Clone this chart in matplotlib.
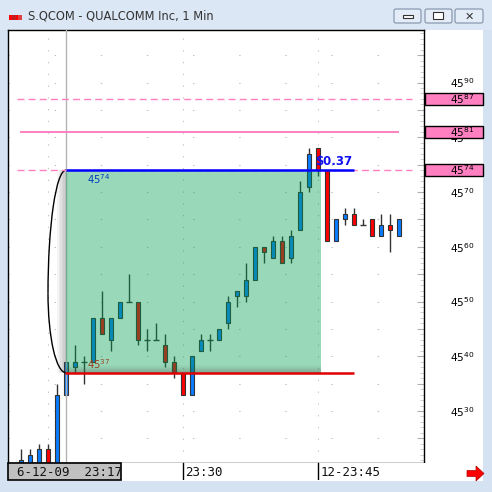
import matplotlib
matplotlib.use("Agg")
import matplotlib.pyplot as plt
from matplotlib.patches import Rectangle, FancyBboxPatch, Polygon, Arc
from matplotlib.transforms import blended_transform_factory
from matplotlib.ticker import FixedLocator, MultipleLocator, FuncFormatter

# one-minute bars, 6-12-09
times = ["23:12", "23:13", "23:14", "23:15", "23:16", "23:17", "23:18", "23:19",
         "23:20", "23:21", "23:22", "23:23", "23:24", "23:25", "23:26", "23:27",
         "23:28", "23:29", "23:30", "23:31", "23:32", "23:33", "23:34", "23:35",
         "23:36", "23:37", "23:38", "23:39", "23:40", "23:41", "23:42", "23:43",
         "23:44", "23:45", "23:46", "23:47", "23:48", "23:49", "23:50", "23:51",
         "23:52", "23:53", "23:54"]
opens = [4519, 4520, 4520, 4523, 4520, 4533, 4538, 4539, 4539, 4547, 4543, 4547,
         4550, 4550, 4543, 4543, 4542, 4539, 4537, 4533, 4541, 4543, 4543, 4546,
         4551, 4551, 4554, 4560, 4558, 4561, 4558, 4563, 4571, 4578, 4574, 4561,
         4565, 4566, 4564, 4565, 4562, 4564, 4562]
highs = [4523, 4523, 4524, 4524, 4535, 4539, 4542, 4540, 4547, 4552, 4547, 4550,
         4555, 4550, 4545, 4546, 4544, 4540, 4537, 4540, 4544, 4544, 4545, 4551,
         4552, 4557, 4560, 4560, 4562, 4562, 4563, 4572, 4578, 4578, 4574, 4565,
         4567, 4567, 4565, 4565, 4566, 4566, 4565]
lows = [4519, 4520, 4520, 4520, 4520, 4533, 4537, 4535, 4539, 4544, 4541, 4547,
        4550, 4542, 4541, 4543, 4538, 4536, 4533, 4533, 4541, 4541, 4543, 4545,
        4549, 4550, 4554, 4557, 4558, 4557, 4557, 4563, 4570, 4573, 4561, 4561,
        4564, 4564, 4564, 4562, 4562, 4559, 4562]
closes = [4521, 4522, 4523, 4520, 4533, 4539, 4539, 4539, 4547, 4544, 4547, 4550,
          4550, 4543, 4543, 4543, 4539, 4537, 4533, 4540, 4543, 4543, 4545, 4550,
          4552, 4554, 4560, 4559, 4561, 4557, 4562, 4570, 4577, 4574, 4561, 4565,
          4566, 4564, 4564, 4562, 4564, 4563, 4565]

zone_top = 4574
zone_bottom = 4537
zone_start = "23:17"
zone_end = "23:45"
line_end = "23:49"
alert_levels = [4587, 4581, 4574]
change_text = "$0.37"
price_ticks = [4530, 4540, 4550, 4560, 4570, 4580, 4590]
start_label = "6-12-09  23:17"
time_marks = [("23:30", "23:30"), ("23:45", "12-23:45")]
title = "S.QCOM - QUALCOMM Inc, 1 Min"

W = H = 492
BLUE = "#0A7CFF"
RED = "#FF0000"
PINK = "#FF7FC0"

plt.rcParams["mathtext.default"] = "regular"
plt.rcParams["font.family"] = ["DejaVu Sans"]

fig = plt.figure(figsize=(W / 100, H / 100), dpi=100)
fig.patch.set_facecolor("#D4E2F2")


def fx(x):
    return x / W


def fy(y):
    return 1 - y / H


# window chrome
fig.add_artist(Rectangle((0, fy(30)), 1, 30 / H, transform=fig.transFigure,
                         facecolor="#DCE7F5", edgecolor="none", zorder=-2))
fig.add_artist(Rectangle((fx(8), fy(481)), 475 / W, 451 / H, transform=fig.transFigure,
                         facecolor="white", edgecolor="none", zorder=-1))
fig.text(fx(28), fy(16), title, fontsize=8.3, color="#333333", va="center")
for x0, c in [(9, RED), (15, RED), (12, "#c02020"), (18, "#e04040")]:
    fig.add_artist(Rectangle((fx(x0), fy(20)), 4 / W, 5 / H, transform=fig.transFigure,
                             facecolor=c, edgecolor="none"))
for bx, bw in [(394, 27), (425, 27), (455, 28)]:
    fig.add_artist(FancyBboxPatch((fx(bx), fy(23)), bw / W, 14 / H,
                                  boxstyle="round,pad=0,rounding_size=0.004",
                                  transform=fig.transFigure, facecolor="#E3ECF7",
                                  edgecolor="#8090A8", lw=0.8))
fig.add_artist(Rectangle((fx(403), fy(18)), 10 / W, 2.5 / H, transform=fig.transFigure,
                         facecolor="white", edgecolor="#333333", lw=0.8))
fig.add_artist(Rectangle((fx(433), fy(19)), 10 / W, 7 / H, transform=fig.transFigure,
                         facecolor="white", edgecolor="#333333", lw=0.8))
fig.text(fx(469), fy(16.5), "✕", fontsize=8, ha="center", va="center",
         color="#333333", fontweight="bold")

# main chart
xs = list(range(len(times)))
i0 = times.index(zone_start)
x_left = i0 - 58 / 9
x_right = i0 + 358 / 9
ax = fig.add_axes([fx(8), fy(463), 416 / W, 433 / H])
ax.set_xlim(x_left, x_right)
ax.set_ylim(4520.5, 4599.6)
for s in ax.spines.values():
    s.set_color("black")
    s.set_linewidth(1.0)

ax.yaxis.tick_right()
ax.yaxis.set_major_locator(MultipleLocator(5))
ax.yaxis.set_minor_locator(MultipleLocator(1))
ax.yaxis.set_major_formatter(FuncFormatter(
    lambda v, p: f"45$^{{{int(round(v)) % 100:02d}}}$" if int(round(v)) in price_ticks else ""))
ax.tick_params(axis="y", which="major", direction="in", length=5, color="#b0b0b0",
               labelsize=7.7, pad=18.5)
ax.tick_params(axis="y", which="minor", direction="in", length=3, color="#c8c8c8")
grid_x = [times.index("23:15"), times.index("23:30"), times.index("23:45")]
ax.xaxis.set_major_locator(FixedLocator(grid_x))
ax.tick_params(axis="x", length=0, labelbottom=False)
ax.grid(axis="y", color="#bdbdbd", lw=0.75, linestyle=(0, (1.3, 43)))
ax.grid(axis="x", color="#c4c4c4", lw=0.75, linestyle=(0, (1.3, 10)))

# candles
for x, o, h, l, c in zip(xs, opens, highs, lows, closes):
    ax.vlines(x, l, h, color="#333333", lw=1.0, zorder=2)
    if o == c:
        ax.hlines(o, x - 0.3, x + 0.3, color="#333333", lw=1.0, zorder=3)
    else:
        ax.bar(x, abs(c - o), bottom=min(o, c), width=0.52,
               color=BLUE if c > o else RED, edgecolor="#333333", lw=0.8, zorder=3)

ax.axvline(i0, color="#b4b4b4", lw=1.0, zorder=3.2)

# level labels under the overlay
ax.text(i0 + 2.35, zone_top - 0.3, f"45$^{{{zone_top % 100}}}$", color="#0000FF",
        fontsize=7.2, va="top", zorder=3.5)
ax.text(i0 + 2.35, zone_bottom + 0.25, f"45$^{{{zone_bottom % 100}}}$", color=RED,
        fontsize=7.2, va="bottom", zorder=3.5)

# green zone with shadow
i_end = times.index(zone_end) + 0.33
ax.add_patch(Rectangle((i0, zone_bottom), i_end - i0, zone_top - zone_bottom,
                       facecolor="#00A050", alpha=0.4, edgecolor="none", zorder=4))
for k in range(1, 7):
    d = 0.16 * k
    ax.add_patch(Rectangle((i0 - d, zone_bottom), d, zone_top - zone_bottom,
                           facecolor="#505050", alpha=0.06, edgecolor="none", zorder=4))
    ax.add_patch(Rectangle((i0, zone_bottom), i_end - i0, 0.22 * k,
                           facecolor="#505050", alpha=0.05, edgecolor="none", zorder=4))

# bracket curve
yc = 4551.5
ax.add_patch(Arc((i0, yc), 4.0, 2 * (zone_top - yc), theta1=90, theta2=180,
                 color="black", lw=1.0, zorder=4.5))
ax.add_patch(Arc((i0, yc), 4.0, 2 * (yc - zone_bottom), theta1=180, theta2=270,
                 color="black", lw=1.0, zorder=4.5))

# alert lines
i_line = times.index(line_end)
ax.hlines([alert_levels[0], alert_levels[2]], x_left + 1.0, x_right - 1.33,
          color=PINK, lw=1.0, linestyles=(0, (5, 3)), zorder=4.6)
ax.hlines(alert_levels[1], x_left + 1.33, i_line + 5.0, color=PINK, lw=1.4, zorder=4.6)
ax.hlines(zone_top, i0, i_line, color="#0000FF", lw=1.8, zorder=5)
ax.hlines(zone_bottom, i0 - 0.1, i_line, color="#E00000", lw=1.8, zorder=5)
ax.text(i0 + 27.7, zone_top + 0.3, change_text, color="#1010F0", fontsize=8.5,
        fontweight="bold", va="bottom", zorder=6)

# price-axis alert boxes
tr = blended_transform_factory(fig.transFigure, ax.transData)
for lv in alert_levels:
    fig.add_artist(Rectangle((fx(425), lv - 1.1), 58 / W, 2.2, transform=tr,
                             facecolor=PINK, edgecolor="black", lw=1.0, zorder=2))
    fig.add_artist(plt.Text(fx(449.5), lv, f"45$^{{{lv % 100}}}$", transform=tr,
                            fontsize=7.7, va="center", ha="left", color="black",
                            zorder=3))

# time strip
ax_t = fig.add_axes([fx(8), fy(480), 475 / W, 17 / H])
ax_t.set_xlim(x_left, x_left + 475 / 9)
ax_t.set_ylim(0, 1)
ax_t.set_xticks([])
ax_t.set_yticks([])
for s in ax_t.spines.values():
    s.set_visible(False)
ax_t.add_patch(Rectangle((x_left, 0.0), 113 / 9, 1.0, facecolor="#C0C0C0",
                         edgecolor="black", lw=1.2, clip_on=False))
ax_t.text(x_left + 0.95, 0.45, start_label, family="DejaVu Sans Mono", fontsize=9,
          va="center", ha="left", color="#111111")
for key, lab in time_marks:
    xi = times.index(key)
    ax_t.axvline(xi + 0.05, color="black", lw=1.0)
    ax_t.text(xi + 0.25, 0.45, lab, family="DejaVu Sans Mono", fontsize=9,
              va="center", ha="left", color="#111111")

fig.add_artist(Polygon([(fx(467), fy(470.5)), (fx(476), fy(470.5)), (fx(476), fy(466)),
                        (fx(484), fy(473.5)), (fx(476), fy(481)), (fx(476), fy(476.5)),
                        (fx(467), fy(476.5))], closed=True, transform=fig.transFigure,
                       facecolor="#FF0000", edgecolor="#B00000", lw=0.5, zorder=3))

fig.savefig("out.png", dpi=100, facecolor=fig.get_facecolor())
plt.close(fig)
